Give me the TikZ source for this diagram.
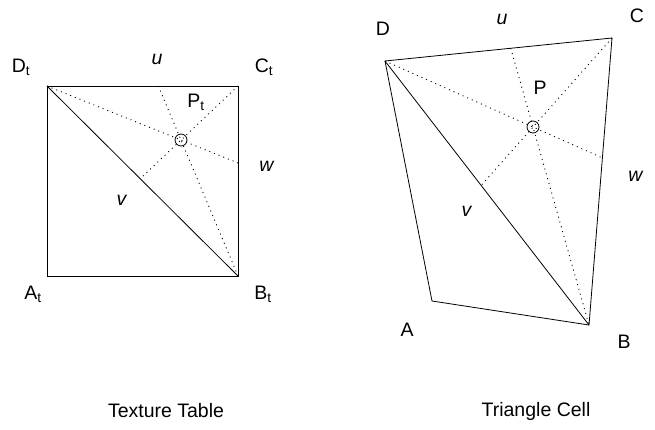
\documentclass[tikz,border=0pt]{standalone}
\usepackage{fontspec}
\setmainfont{Liberation Sans}
\usepackage{tikz}
\usetikzlibrary{positioning}

\begin{document}
\begin{tikzpicture}[x=1pt, y=-1pt, line width=0.8pt,
    punteada/.style={dash pattern=on 1pt off 4pt, line width=0.9pt},
    etiqueta/.style={font=\fontsize{19.5}{22}\selectfont, inner sep=0pt}]
    \useasboundingbox (0,0) rectangle (655,429);
    % Vértices de la tabla
    \coordinate (At) at (47,276);
    \coordinate (Bt) at (238,276);
    \coordinate (Ct) at (238,86);
    \coordinate (Dt) at (47,86);
    \coordinate (Pt) at (181,140);
    % Puntos sobre los lados
    \coordinate (ut) at (intersection of Bt--Pt and Dt--Ct);
    \coordinate (wt) at (intersection of Dt--Pt and Ct--Bt);
    \coordinate (vt) at (intersection of Ct--Pt and Dt--Bt);
    % Cuadrado
    \draw (At) -- (Bt) -- (Ct) -- (Dt) -- cycle;
    \draw (Dt) -- (Bt);
    \draw[punteada] (Dt) -- (wt);
    \draw[punteada] (Ct) -- (vt);
    \draw[punteada] (ut) -- (Bt);
    \draw (Pt) circle [radius=6pt];
    % Vértices de la celda
    \coordinate (A) at (432,301);
    \coordinate (B) at (589,325);
    \coordinate (C) at (612,38);
    \coordinate (D) at (385,61);
    \coordinate (P) at (533,127);
    % Puntos sobre los lados
    \coordinate (u) at (intersection of B--P and D--C);
    \coordinate (w) at (intersection of D--P and C--B);
    \coordinate (v) at (intersection of C--P and D--B);
    % Celda
    \draw (A) -- (B) -- (C) -- (D) -- cycle;
    \draw (D) -- (B);
    \draw[punteada] (D) -- (w);
    \draw[punteada] (C) -- (v);
    \draw[punteada] (u) -- (B);
    \draw (P) circle [radius=6pt];
    % Etiquetas
    \node[etiqueta] (lDt) at (21,67) {D\textsubscript{t}};
    \node[etiqueta] (lut) at (157,59) {\textit{u}};
    \node[etiqueta] (lCt) at (264,67) {C\textsubscript{t}};
    \node[etiqueta] (lPt) at (196,102) {P\textsubscript{t}};
    \node[etiqueta] (lwt) at (267,166) {\textit{w}};
    \node[etiqueta] (lvt) at (122,200) {\textit{v}};
    \node[etiqueta] (lAt) at (33,294) {A\textsubscript{t}};
    \node[etiqueta] (lBt) at (263,294) {B\textsubscript{t}};
    \node[etiqueta] (tabla) at (166,411) {Texture Table};
    \node[etiqueta] (lD) at (383,29) {D};
    \node[etiqueta] (lu) at (502,19) {\textit{u}};
    \node[etiqueta] (lC) at (637,16) {C};
    \node[etiqueta] (lP) at (540,88) {P};
    \node[etiqueta] (lw) at (636,176) {\textit{w}};
    \node[etiqueta] (lv) at (467,211) {\textit{v}};
    \node[etiqueta] (lA) at (407,330) {A};
    \node[etiqueta] (lB) at (624,342) {B};
    \node[etiqueta] (celda) at (536,411) {Triangle Cell};
\end{tikzpicture}
\end{document}
